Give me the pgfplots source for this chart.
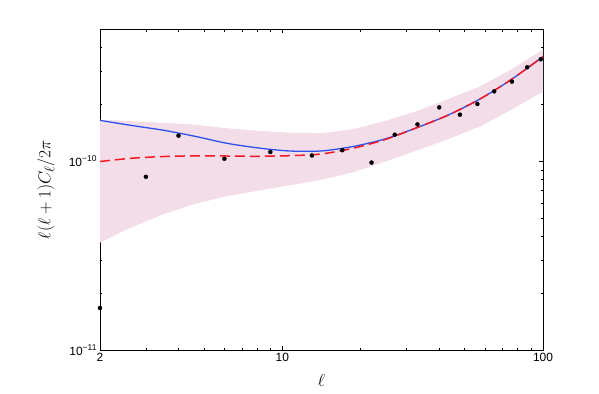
\documentclass[border=0pt]{standalone}
\usepackage{fontspec}
\setmainfont{Liberation Sans}
\usepackage{pgfplots}
\pgfplotsset{compat=1.18}
\usepgfplotslibrary{fillbetween}
\definecolor{bandpink}{RGB}{243,221,233}
\definecolor{myblue}{RGB}{45,80,240}
\definecolor{myred}{RGB}{245,25,35}
\begin{document}
\begin{tikzpicture}
\begin{axis}[
  xmode=log, ymode=log,
  scale only axis,
  width=443bp, height=320.7bp,
  xmin=2, xmax=100, ymin=1e-11, ymax=5e-10,
  xtick={2,10,100}, xticklabels={2,10,100},
  minor xtick={3,4,5,6,7,8,9,20,30,40,50,60,70,80,90},
  ytick={1e-11,1e-10}, yticklabels={10\raisebox{0.9ex}{\fontsize{8.5}{9}\selectfont −11},10\raisebox{0.9ex}{\fontsize{8.5}{9}\selectfont −10}},
  minor ytick={2e-11,3e-11,4e-11,5e-11,6e-11,7e-11,8e-11,9e-11,2e-10,3e-10,4e-10,5e-10},
  tick align=inside,
  major tick length=4bp, minor tick length=2.5bp,
  tick style={black, line width=0.5pt},
  ticklabel style={font=\fontsize{12}{14}\selectfont},
  axis line style={line width=0.8pt},
  xlabel={$\ell$}, ylabel={$\ell(\ell+1)C_\ell/2\pi$},
  label style={font=\fontsize{19}{22}\selectfont},
  xlabel style={at={(axis description cs:0.5,-0.095)}, anchor=center},
  ylabel style={at={(axis description cs:-0.122,0.5)}, anchor=center, rotate=0},
  clip=false,
]
\addplot[name path=U, draw=none] coordinates {
(2,1.661e-10) (2.644,1.630e-10) (3.496,1.600e-10) (4.622,1.562e-10) (6.111,1.496e-10) (8.079,1.451e-10) (10.68,1.416e-10) (14.14,1.408e-10) (18.69,1.478e-10) (24.71,1.630e-10) (32.67,1.842e-10) (43.19,2.133e-10) (57.10,2.485e-10) (75.49,3.058e-10) (100,3.905e-10)};
\addplot[name path=L, draw=none] coordinates {
(2,0.371e-10) (2.644,0.447e-10) (3.496,0.523e-10) (4.622,0.595e-10) (6.111,0.652e-10) (8.079,0.698e-10) (10.68,0.746e-10) (14.14,0.798e-10) (18.69,0.874e-10) (24.71,0.994e-10) (32.67,1.137e-10) (43.19,1.308e-10) (57.10,1.524e-10) (75.49,1.876e-10) (100,2.337e-10)};
\addplot[bandpink, draw=none] fill between[of=U and L];
\addplot[myblue, line width=1.3pt, smooth] coordinates {
(2,1.646e-10) (2.644,1.547e-10) (3.496,1.460e-10) (4.622,1.356e-10) (6.111,1.246e-10) (8.079,1.176e-10) (10.68,1.133e-10) (14.14,1.134e-10) (18.69,1.197e-10) (24.71,1.311e-10) (32.67,1.502e-10) (43.19,1.754e-10) (57.10,2.130e-10) (75.49,2.706e-10) (100,3.584e-10)};
\addplot[myred, line width=1.5pt, dash pattern=on 10bp off 5bp, smooth] coordinates {
(2,0.997e-10) (2.644,1.037e-10) (3.496,1.059e-10) (4.622,1.068e-10) (6.111,1.066e-10) (8.079,1.062e-10) (10.68,1.070e-10) (14.14,1.093e-10) (18.69,1.172e-10) (24.71,1.300e-10) (32.67,1.502e-10) (43.19,1.754e-10) (57.10,2.130e-10) (75.49,2.706e-10) (100,3.584e-10)};
\addplot[only marks, mark=*, mark size=2bp, black] coordinates {
(2,1.67e-11) (3,8.27e-11) (4,1.366e-10) (6,1.031e-10) (9,1.119e-10) (13,1.073e-10) (17,1.144e-10) (22,0.984e-10) (27,1.382e-10) (33,1.567e-10) (40,1.929e-10) (48,1.765e-10) (56,2.012e-10) (65,2.346e-10) (76,2.641e-10) (87,3.146e-10) (98,3.468e-10)};
\end{axis}
\path ([shift={(-100bp,-44bp)}]current axis.south west) rectangle ([shift={(56bp,29.3bp)}]current axis.north east);
\end{tikzpicture}
\end{document}
